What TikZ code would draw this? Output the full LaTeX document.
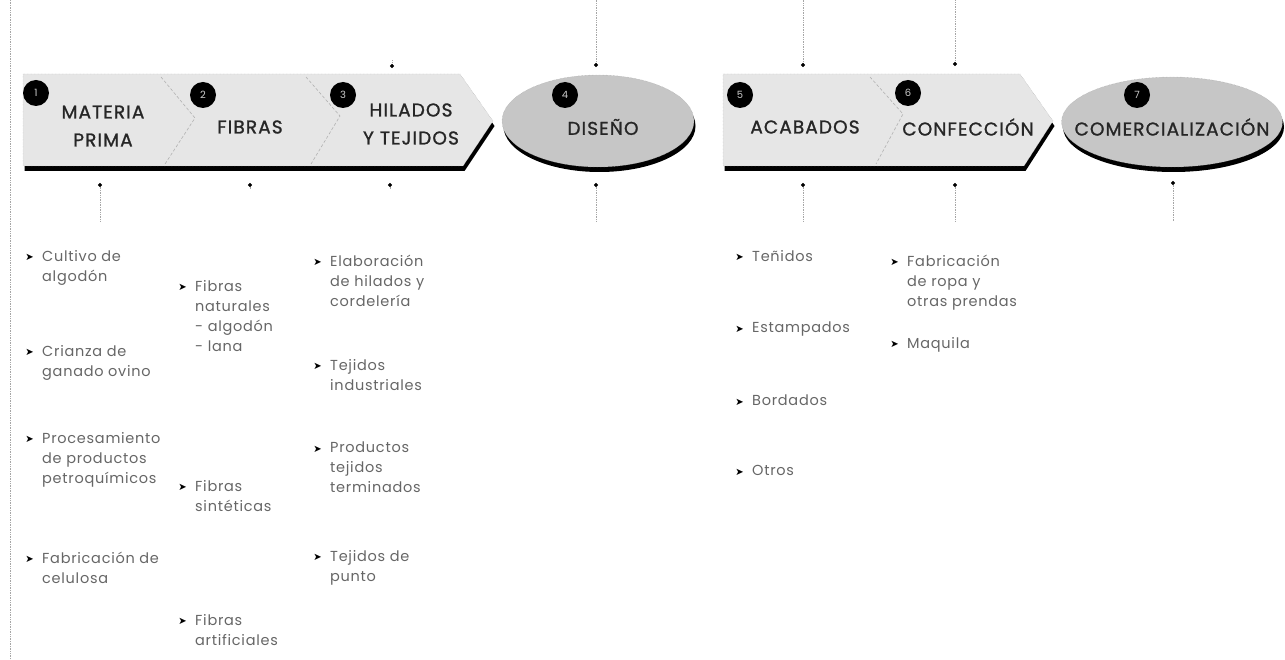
\documentclass[tikz,border=0pt]{standalone}
\usepackage{fontspec}
\setmainfont{Poppins}
\newfontfamily\headfont{Poppins}[LetterSpace=6,FakeBold=1.2]
\newfontfamily\listfont{Poppins}[LetterSpace=5]
\newfontfamily\symfont{DejaVu Sans}
\usetikzlibrary{arrows.meta,shapes.geometric,shadows,positioning}

\definecolor{chevgray}{HTML}{E6E6E6}
\definecolor{ovalgray}{HTML}{C6C6C6}
\definecolor{inkgray}{HTML}{262626}
\definecolor{listgray}{HTML}{666666}

\begin{document}
\begin{tikzpicture}[
  x=1pt,y=-1pt,
  stage/.style   ={draw=gray!70,densely dotted,fill=chevgray,
                   drop shadow={shadow xshift=1.5pt,shadow yshift=-5pt,fill=black,opacity=1}},
  oval/.style    ={ellipse,draw=gray!70,densely dotted,fill=ovalgray,inner sep=0pt,
                   drop shadow={shadow xshift=1.5pt,shadow yshift=-5pt,fill=black,opacity=1}},
  stagetext/.style={font=\headfont\fontsize{18.5}{28}\selectfont,text=inkgray,align=center},
  badge/.style   ={circle,fill=black,minimum size=26pt,inner sep=0pt,
                   text=gray!40,font=\fontsize{10}{10}\selectfont},
  split/.style   ={gray!60,densely dashed,line width=0.6pt},
  dots/.style    ={gray!70,densely dotted,line width=0.7pt},
  feed/.style    ={gray!70,densely dotted,line width=0.7pt,{Circle[length=4pt,black]}-},
  bul/.style     ={anchor=north east,inner sep=0pt,xshift=-8pt,yshift=-4pt,
                   text=black,font=\fontsize{10}{10}\selectfont},
  entry/.style   ={anchor=north west,align=left,inner sep=0pt,text=listgray,
                   font=\listfont\fontsize{14.5}{20}\selectfont,
                   label={[bul]north west:\symfont ➤}},
]
\useasboundingbox (0,0) rectangle (1285,660);

% left margin rule
\draw[dots] (10,0) -- (10,660);

%% --- the chain ---
\path[stage] (23,74) -- (460,74) -- (493,121) -- (463,166) -- (23,166) -- cycle;
\node[oval,minimum width=192pt,minimum height=92pt] (diseno) at (598,121) {};
\path[stage] (723,74) -- (1020,74) -- (1053,121) -- (1024,166) -- (723,166) -- cycle;
\node[oval,minimum width=221pt,minimum height=90pt] (comer)  at (1172,122) {};

% inner chevron splits
\draw[split] (161,77) -- (195,118) -- (165,164);
\draw[split] (306,77) -- (340,116) -- (311,164);
\draw[split] (870,77) -- (903,114) -- (876,164);

%% --- stage titles ---
\node[stagetext] (materia) at (103,126) {MATERIA\\PRIMA};
\node[stagetext] (fibras)  at (250,127) {FIBRAS};
\node[stagetext] (hilados) at (411,124) {HILADOS\\Y TEJIDOS};
\node[stagetext] (disTxt)  at (603,127) {DISEÑO};
\node[stagetext] (acab)    at (805,127) {ACABADOS};
\node[stagetext] (confec)  at (968,127) {CONFECCIÓN};
\node[stagetext] (comTxt)  at (1172,127) {COMERCIALIZACIÓN};

\node[badge] (b1) at (36,93)   {1};
\node[badge] (b2) at (203,95)  {2};
\node[badge] (b3) at (343,95)  {3};
\node[badge] (b4) at (565,95)  {4};
\node[badge] (b5) at (740,95)  {5};
\node[badge] (b6) at (908,93)  {6};
\node[badge] (b7) at (1137,95) {7};

%% --- feeders (top) ---
\coordinate (hT1) at (392,60);  \coordinate (hT2) at (392,68);
\coordinate (dT1) at (596,0);   \coordinate (dT2) at (596,67);
\coordinate (aT1) at (803,0);   \coordinate (aT2) at (803,67);
\coordinate (cT1) at (955,0);   \coordinate (cT2) at (955,66);
\draw[feed] (hT2) -- (hT1);
\draw[feed] (dT2) -- (dT1);
\draw[feed] (aT2) -- (aT1);
\draw[feed] (cT2) -- (cT1);

%% --- feeders (bottom) ---
\coordinate (mB1) at (100,183);  \coordinate (mB2) at (100,222);
\coordinate (fB1) at (250,183);  \coordinate (fB2) at (250,189);
\coordinate (hB1) at (390,183);  \coordinate (hB2) at (390,189);
\coordinate (dB1) at (596,183);  \coordinate (dB2) at (596,222);
\coordinate (aB1) at (803,183);  \coordinate (aB2) at (803,222);
\coordinate (cB1) at (955,183);  \coordinate (cB2) at (955,222);
\coordinate (kB1) at (1173,181); \coordinate (kB2) at (1173,222);
\draw[feed] (mB1) -- (mB2);
\draw[feed] (fB1) -- (fB2);
\draw[feed] (hB1) -- (hB2);
\draw[feed] (dB1) -- (dB2);
\draw[feed] (aB1) -- (aB2);
\draw[feed] (cB1) -- (cB2);
\draw[feed] (kB1) -- (kB2);

%% --- lists ---
% materia prima
\node[entry] (mp1) at (42,250) {Cultivo de\\algodón};
\node[entry] (mp2) at (42,345) {Crianza de\\ganado ovino};
\node[entry] (mp3) at (42,432) {Procesamiento\\de productos\\petroquímicos};
\node[entry] (mp4) at (42,552) {Fabricación de\\celulosa};
% fibras
\node[entry] (fb1) at (195,280) {Fibras\\naturales\\- algodón\\- lana};
\node[entry] (fb2) at (195,480) {Fibras\\sintéticas};
\node[entry] (fb3) at (195,614) {Fibras\\artificiales};
% hilados y tejidos
\node[entry] (ht1) at (330,255) {Elaboración\\de hilados y\\cordelería};
\node[entry] (ht2) at (330,359) {Tejidos\\industriales};
\node[entry] (ht3) at (330,442) {Productos\\tejidos\\terminados};
\node[entry] (ht4) at (330,550) {Tejidos de\\punto};
% acabados
\node[entry] (ac1) at (752,250) {Teñidos};
\node[entry] (ac2) at (752,322) {Estampados};
\node[entry] (ac3) at (752,395) {Bordados};
\node[entry] (ac4) at (752,465) {Otros};
% confeccion
\node[entry] (cf1) at (907,255) {Fabricación\\de ropa y\\otras prendas};
\node[entry] (cf2) at (907,337) {Maquila};

\end{tikzpicture}
\end{document}
